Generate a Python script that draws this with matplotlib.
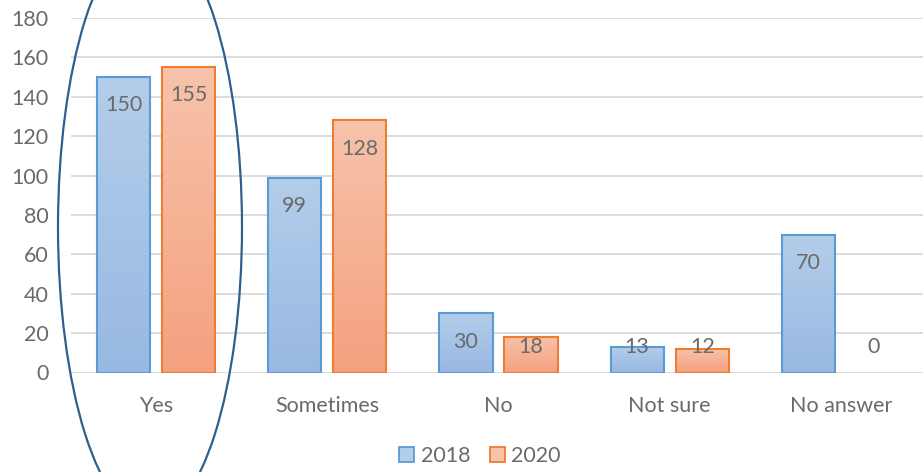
import matplotlib
matplotlib.use("Agg")
import matplotlib.pyplot as plt
import numpy as np
from matplotlib.patches import Ellipse, Patch
from matplotlib.colors import LinearSegmentedColormap

categories = ["Yes", "Sometimes", "No", "Not sure", "No answer"]
series_names = ["2018", "2020"]
values_2018 = [150, 99, 30, 13, 70]
values_2020 = [155, 128, 18, 12, 0]
yticks = [0, 20, 40, 60, 80, 100, 120, 140, 160, 180]

plt.rcParams['font.family'] = ['Lato', 'DejaVu Sans']
W, H = 923, 472
fig = plt.figure(figsize=(W / 100, H / 100), dpi=100)
left_px, right_px = 70.5, 926.5
top_px, bot_px = 18.0, 372.5
ax = fig.add_axes([left_px / W, 1 - bot_px / H, (right_px - left_px) / W, (bot_px - top_px) / H])
ax.set_xlim(-0.5, 4.5)
ax.set_ylim(0, 180)

gray = "#6a6a6a"
grid = "#d9d9d9"
fs = 15.5
for s in ax.spines.values():
    s.set_visible(False)
ax.set_yticks(yticks)
ax.yaxis.grid(True, color=grid, linewidth=1.3)
ax.set_axisbelow(True)
ax.tick_params(axis='both', length=0, labelsize=fs, colors=gray)
ax.tick_params(axis='y', pad=16)
ax.tick_params(axis='x', pad=17)
ax.set_xticks(range(len(categories)))
ax.set_xticklabels(categories)

styles = [
    dict(edge="#5b9bd5", top="#b4cdea", bottom="#98b9e2"),
    dict(edge="#ed7d31", top="#f7c3ab", bottom="#f4a17f"),
]
bw = 0.31
offsets = [-0.19, 0.19]
x = np.arange(len(categories))
for vals, st, off in zip([values_2018, values_2020], styles, offsets):
    cmap = LinearSegmentedColormap.from_list("g", [st["bottom"], st["top"]])
    grad = np.linspace(0, 1, 256).reshape(-1, 1)
    for xi, v in zip(x, vals):
        if v > 0:
            ax.imshow(grad, cmap=cmap, origin='lower', aspect='auto',
                      extent=[xi + off - bw / 2, xi + off + bw / 2, 0, v], zorder=2)
            ax.bar(xi + off, v, width=bw, facecolor='none', edgecolor=st["edge"],
                   linewidth=1.5, zorder=3)
        ly = max(v - 14.3, 12.7)
        ax.text(xi + off, ly, str(v), ha='center', va='center', fontsize=fs,
                color=gray, zorder=4)
ax.set_xlim(-0.5, 4.5)
ax.set_ylim(0, 180)

# ellipse highlighting "Yes"
ell = Ellipse((150 / W, 1 - 227 / H), width=184 / W, height=584 / H,
              transform=fig.transFigure, fill=False, edgecolor="#2f5f8c", linewidth=1.6)
fig.patches.append(ell)

handles = [Patch(facecolor=st["top"], edgecolor=st["edge"], linewidth=1.3) for st in styles]
fig.legend(handles, series_names, loc='center', bbox_to_anchor=(480 / W, 1 - 456 / H),
           ncol=2, frameon=False, fontsize=fs, labelcolor=gray,
           handlelength=0.7, handleheight=0.7, handletextpad=0.3, columnspacing=0.9)

fig.savefig("out.png", dpi=100)
